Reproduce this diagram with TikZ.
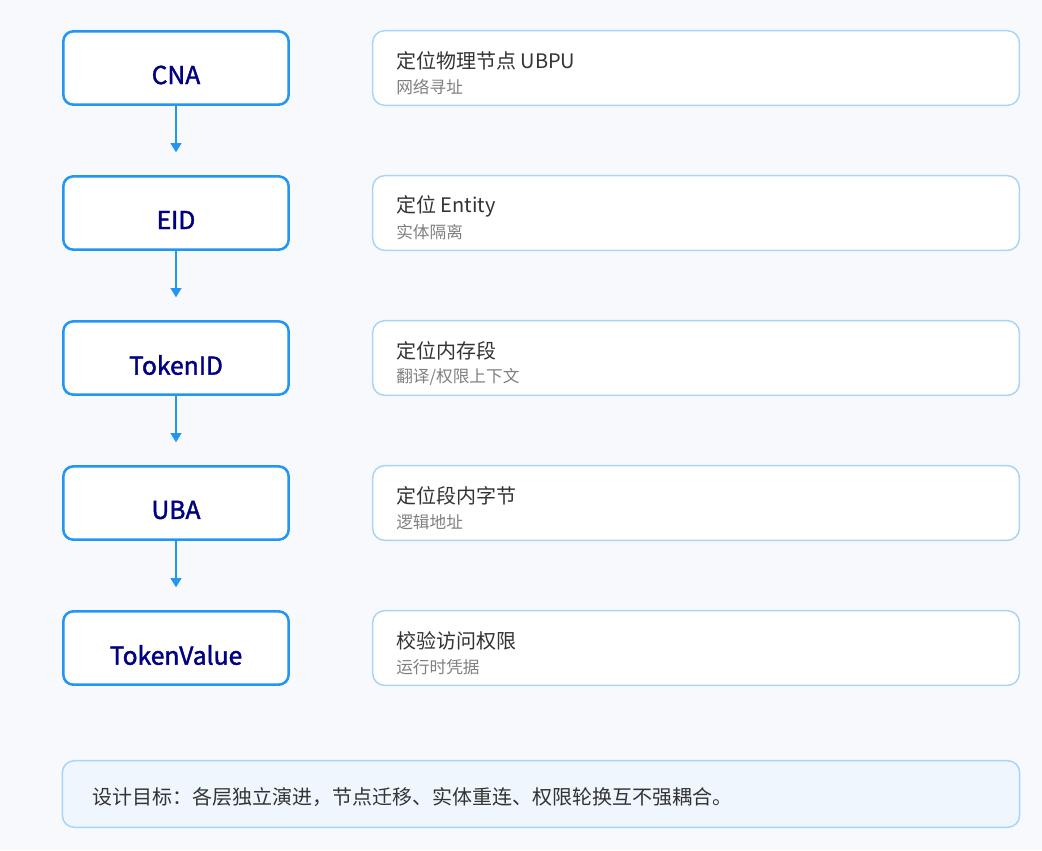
\documentclass[tikz,border=0pt]{standalone}
\usepackage{fontspec}
\setmainfont{Noto Sans CJK SC}
\newfontfamily\layerfont[FakeBold=1.6]{Noto Sans CJK SC}
\usetikzlibrary{arrows.meta}

\definecolor{pagebg}{HTML}{F8F9FC}
\definecolor{layerblue}{HTML}{2196F3}
\definecolor{infoblue}{HTML}{A8D5F7}
\definecolor{layernavy}{HTML}{000080}
\definecolor{titlegray}{HTML}{333333}
\definecolor{subgray}{HTML}{808080}
\definecolor{notefill}{HTML}{EFF6FE}

\tikzset{
	layer/.style={draw=layerblue,line width=1.9pt,rounded corners=7.5pt,fill=white,minimum width=169pt,minimum height=55pt},
	layertext/.style={text=layernavy,font=\layerfont\fontsize{18.5}{21}\selectfont},
	info/.style={draw=infoblue,line width=1.1pt,rounded corners=9pt,fill=white,minimum width=485pt,minimum height=56pt},
	infotitle/.style={anchor=west,inner xsep=0pt,text=titlegray,font=\fontsize{15}{18}\selectfont},
	infosub/.style={anchor=west,inner xsep=0pt,text=subgray,font=\fontsize{12.5}{15}\selectfont},
	flow/.style={draw=layerblue,line width=1.5pt,-{Triangle[length=7pt,width=8pt]},shorten >=17pt}
}

\begin{document}
\begin{tikzpicture}[x=0.75pt,y=-0.75pt]
	\fill[pagebg] (0,0) rectangle (1042,850);

	\node[layer] (cna) at (176,68) {};
	\node[layer] (eid) at (176,213) {};
	\node[layer] (tokenid) at (176,358) {};
	\node[layer] (uba) at (176,503) {};
	\node[layer] (tokenvalue) at (176,648) {};

	\node[layertext] (cnatext) at (176,75) {CNA};
	\node[layertext] (eidtext) at (176,220) {EID};
	\node[layertext] (tokenidtext) at (176,365) {TokenID};
	\node[layertext] (ubatext) at (176,510) {UBA};
	\node[layertext] (tokenvaluetext) at (176,655) {TokenValue};

\draw[flow] (cna) -- (eid);
\draw[flow] (eid) -- (tokenid);
\draw[flow] (tokenid) -- (uba);
\draw[flow] (uba) -- (tokenvalue);

	\node[info] (cnainfo) at (696,68) {};
	\node[info] (eidinfo) at (696,213) {};
	\node[info] (tokenidinfo) at (696,358) {};
	\node[info] (ubainfo) at (696,503) {};
	\node[info] (tokenvalueinfo) at (696,648) {};

	\node[infotitle] (cnatitle) at (396,61) {定位物理节点 UBPU};
	\node[infosub] (cnasub) at (396,87) {网络寻址};
	\node[infotitle] (eidtitle) at (396,206) {定位 Entity};
	\node[infosub] (eidsub) at (396,232) {实体隔离};
	\node[infotitle] (tokenidtitle) at (396,351) {定位内存段};
	\node[infosub] (tokenidsub) at (396,377) {翻译/权限上下文};
	\node[infotitle] (ubatitle) at (396,496) {定位段内字节};
	\node[infosub] (ubasub) at (396,522) {逻辑地址};
	\node[infotitle] (tokenvaluetitle) at (396,641) {校验访问权限};
	\node[infosub] (tokenvaluesub) at (396,667) {运行时凭据};

	\node[draw=infoblue,line width=1.1pt,rounded corners=9pt,fill=notefill,minimum width=718pt,minimum height=50pt] (goal) at (541,794) {};
	\node[infotitle] (goaltext) at (92,797) {设计目标：各层独立演进，节点迁移、实体重连、权限轮换互不强耦合。};
\end{tikzpicture}
\end{document}
